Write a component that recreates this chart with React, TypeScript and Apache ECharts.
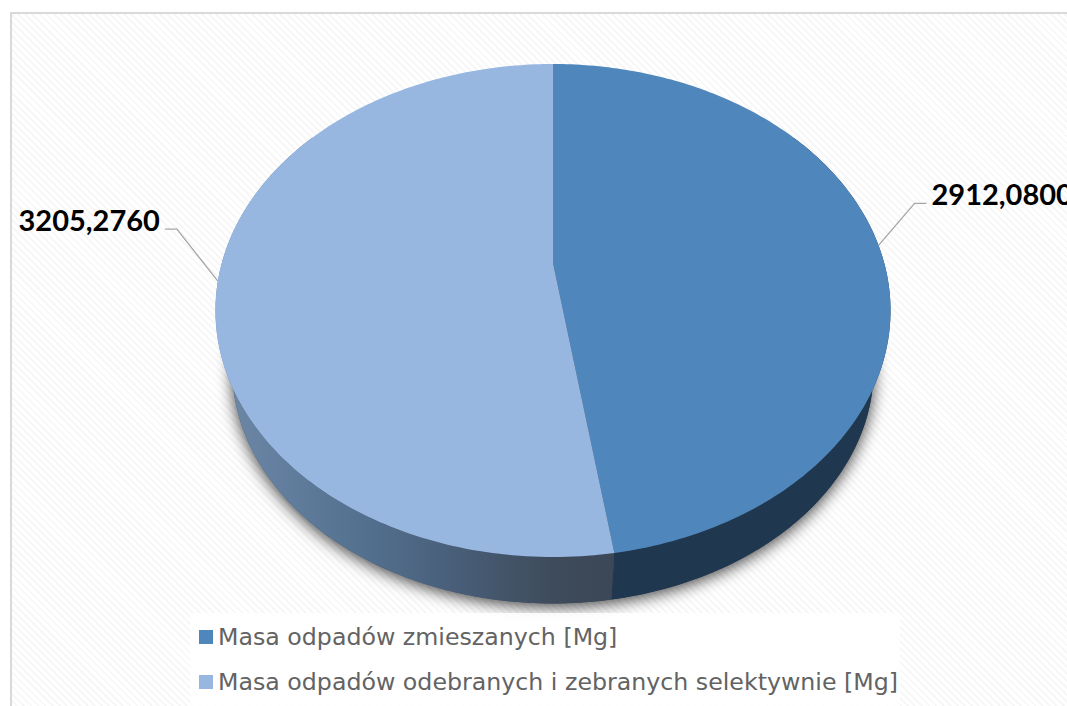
import React, { useEffect, useRef } from "react";
import * as echarts from "echarts";

const seriesNames = ["Masa odpadów zmieszanych [Mg]", "Masa odpadów odebranych i zebranych selektywnie [Mg]"];
const values = [2912.08, 3205.276];
const valueLabels = ["2912,0800", "3205,2760"];
const faceColors = ["#4f87bd", "#97b7e1"];

const total = values.reduce((a, b) => a + b, 0);
const FONT = '"DejaVu Sans"';
const BOLD = 'Lato';

// perspective projection of the pie's unit disc
const CX = 553, CY = 263, A = 186.67, C = -0.1927, D = 331.2;
const SCALE = 0.95, VY = 1487;
const top = (t: number): number[] => {
  const u = Math.sin(t), v = -Math.cos(t), w = 1 + C * v;
  return [CX + (D * u) / w, (A * v + CY) / w];
};
const low = (t: number): number[] => {
  const p = top(t);
  return [CX + (p[0] - CX) * SCALE, VY - (VY - p[1]) * SCALE];
};
const sliceRange = (i: number): number[] => {
  const before = values.slice(0, i).reduce((a, b) => a + b, 0);
  return [(before / total) * Math.PI * 2, ((before + values[i]) / total) * Math.PI * 2];
};
const arc = (f: (t: number) => number[], a: number, b: number): number[][] => {
  const n = Math.max(2, Math.ceil(Math.abs(b - a) * 60));
  const out: number[][] = [];
  for (let k = 0; k <= n; k++) out.push(f(a + ((b - a) * k) / n));
  return out;
};

const wallFill = [
  "#1f3850",
  {
    type: "linear",
    global: true,
    x: 232,
    y: 0,
    x2: 612,
    y2: 0,
    colorStops: [
      { offset: 0, color: "#6c86a6" },
      { offset: 0.35, color: "#53708f" },
      { offset: 0.6, color: "#485d77" },
      { offset: 0.85, color: "#3e4b5b" },
      { offset: 1, color: "#3c4757" },
    ],
  },
];

const renderWall = (_: any, api: any) => {
  const i = api.value(0);
  const [a, b] = sliceRange(i);
  const lo = Math.max(a, Math.PI * 0.3);
  const hi = Math.min(b, Math.PI * 1.7);
  const points = [...arc(top, lo, hi), ...arc(low, hi, lo)];
  return {
    type: "polygon",
    shape: { points },
    style: { fill: wallFill[i] },
  };
};

const renderShadow = () => ({
  type: "polygon",
  shape: { points: arc(low, 0, Math.PI * 2) },
  style: {
    fill: "#3c4757",
    shadowBlur: 16,
    shadowColor: "rgba(0,0,0,0.75)",
    shadowOffsetY: 3,
  },
});

const renderFace = (i: number) => () => {
  const [a, b] = sliceRange(i);
  const mid = (a + b) / 2;
  const p = top(mid);
  const side = p[0] > CX ? 1 : -1;
  const kneeX = p[0] + side * (side > 0 ? 36 : 41);
  const kneeY = p[1] + (side > 0 ? -42 : -52);
  const endX = kneeX + side * 12;
  return {
    type: "group",
    children: [
      {
        type: "polygon",
        shape: { points: [[CX, CY], ...arc(top, a, b)] },
        style: { fill: faceColors[i] },
      },
      {
        type: "polyline",
        shape: { points: [p, [kneeX, kneeY], [endX, kneeY]] },
        style: { stroke: "#a6a6a6", lineWidth: 1.3, fill: "none" },
      },
      {
        type: "text",
        style: {
          x: endX + side * 5,
          y: kneeY - 10,
          text: valueLabels[i],
          align: side > 0 ? "left" : "right",
          verticalAlign: "middle",
          fill: "#000",
          font: `bold 29px ${BOLD}`,
        },
      },
    ],
  };
};

export default function App() {
  const ref = useRef<HTMLDivElement>(null);
  useEffect(() => {
    const chart = echarts.init(ref.current!, undefined, { renderer: "svg" });
    chart.setOption({
      animation: false,
      backgroundColor: "transparent",
      legend: {
        data: seriesNames,
        orient: "vertical",
        left: 190,
        top: 613,
        padding: [12, 2, 12, 9],
        itemWidth: 14,
        itemHeight: 14,
        itemGap: 21,
        icon: "rect",
        backgroundColor: "rgba(255,255,255,0.85)",
        textStyle: { fontFamily: FONT, fontSize: 23.7, color: "#636363", lineHeight: 23 },
      },
      series: [
        { type: "custom", name: "shadow", coordinateSystem: "none", data: [0], renderItem: renderShadow, silent: true },
        { type: "custom", name: "wall", coordinateSystem: "none", data: [0, 1], renderItem: renderWall, silent: true },
        ...seriesNames.map((name, i) => ({
          type: "custom",
          name,
          coordinateSystem: "none",
          data: [values[i]],
          itemStyle: { color: faceColors[i] },
          renderItem: renderFace(i),
          silent: true,
        })),
      ],
    });
    return () => chart.dispose();
  }, []);
  return (
    <div style={{ position: "fixed", left: 0, top: 0, width: 1067, height: 706, background: "#fff", overflow: "hidden" }}>
      <div
        style={{
          position: "absolute",
          left: 10,
          top: 12,
          width: 1100,
          height: 760,
          boxSizing: "border-box",
          border: "2px solid #d9d9d9",
          background: "repeating-linear-gradient(45deg, #ffffff 0px, #ffffff 3px, #f7f7f7 3px, #f7f7f7 5px)",
        }}
      />
      <div ref={ref} style={{ position: "absolute", left: 0, top: 0, width: 1067, height: 706 }} />
    </div>
  );
}
